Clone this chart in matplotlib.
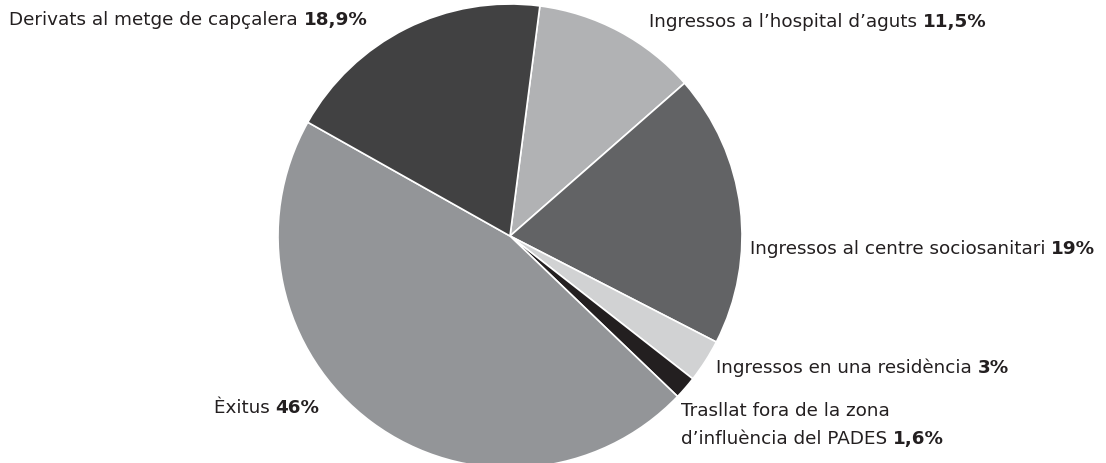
import matplotlib.pyplot as plt

# Data
labels = ["Ingressos a l\u2019hospital d\u2019aguts", "Ingressos al centre sociosanitari",
          "Ingressos en una resid\u00e8ncia", "Trasllat fora de la zona\nd\u2019influ\u00e8ncia del PADES",
          "\u00c8xitus", "Derivats al metge de cap\u00e7alera"]
values = [11.5, 19, 3, 1.6, 46, 18.9]
pct_labels = ["11,5%", "19%", "3%", "1,6%", "46%", "18,9%"]
colors = ["#b1b2b4", "#626365", "#d1d2d3", "#231f20", "#939598", "#414142"]

W, H = 1106, 463
fig = plt.figure(figsize=(W / 100, H / 100), dpi=100)
plt.rcParams['font.family'] = ['DejaVu Sans']

cx, cy, r = 510, 236, 232
ax = fig.add_axes([(cx - r) / W, (H - cy - r) / H, 2 * r / W, 2 * r / H])
ax.pie(values, colors=colors, startangle=82.6, counterclock=False,
       wedgeprops=dict(edgecolor='white', linewidth=1.2))
ax.set_xlim(-1, 1)
ax.set_ylim(-1, 1)
ax.set_aspect('equal')
ax.axis('off')

# label anchor positions in pixels (left, vertical center of last line)
label_pos = [(649, 22), (750, 249), (716, 368), (681, 439), (214, 408), (9, 20)]
txt_color = "#231f20"
fs = 13.2
for lab, pct, (px, py) in zip(labels, pct_labels, label_pos):
    lines = lab.split("\n")
    for k, line in enumerate(lines[:-1]):
        fig.text(px / W, 1 - (py - 28 * (len(lines) - 1 - k)) / H, line,
                 fontsize=fs, color=txt_color, va='center', ha='left')
    t = fig.text(px / W, 1 - py / H, lines[-1] + " ", fontsize=fs, color=txt_color,
                 va='center', ha='left')
    ax.annotate(pct, xy=(1, 0.5), xycoords=t, va='center', ha='left',
                fontsize=fs, fontweight='bold', color=txt_color, annotation_clip=False)

fig.savefig('out.png', dpi=100)
